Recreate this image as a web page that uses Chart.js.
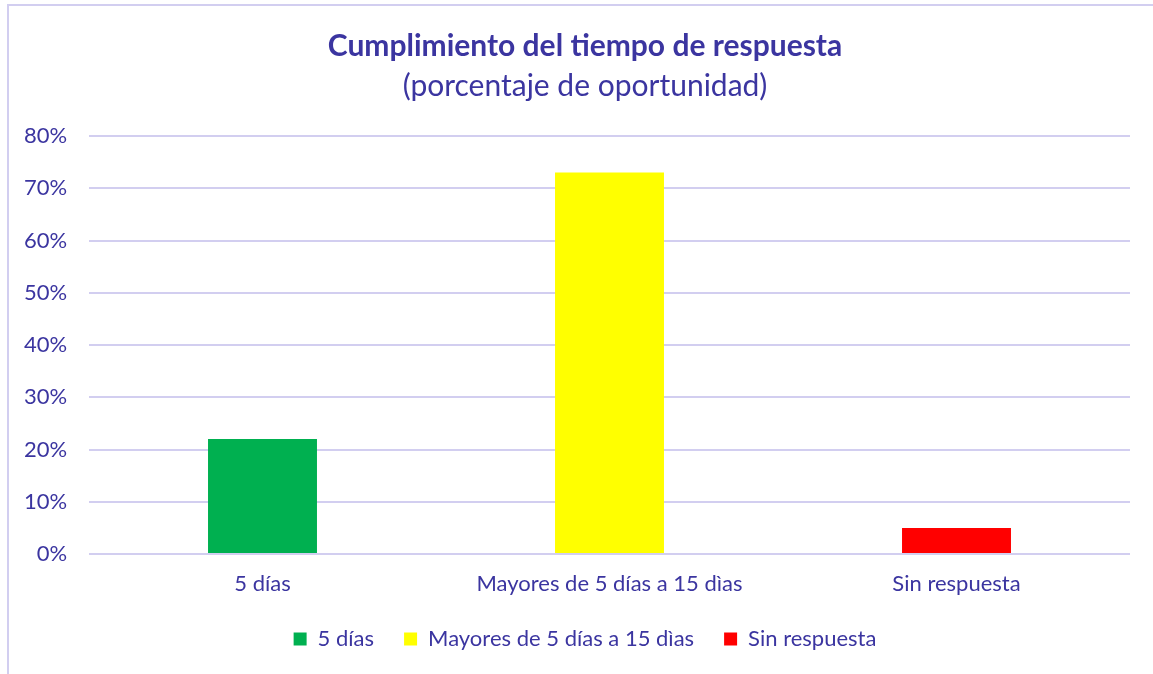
<!DOCTYPE html>
<html>
<head>
<meta charset="utf-8">
<script src="https://cdn.jsdelivr.net/npm/chart.js@4.4.0/dist/chart.umd.min.js"></script>
<style>
html,body{margin:0;padding:0;background:#fff;}
#wrap{position:relative;width:1153px;height:674px;overflow:hidden;}
#frame{position:absolute;left:7px;top:4px;width:1200px;height:700px;border-left:2px solid #d2cef0;border-top:2px solid #d2cef0;}
canvas{position:absolute;left:0;top:0;}
</style>
</head>
<body>
<div id="wrap">
<div id="frame"></div>
<canvas id="c" width="1153" height="674"></canvas>
</div>
<script>
const categories = ["5 días", "Mayores de 5 días a 15 dìas", "Sin respuesta"];
const values = [22, 73, 5];
const colors = ["#00B050", "#FFFF00", "#FF0000"];
const yTicks = [0, 10, 20, 30, 40, 50, 60, 70, 80];
const titleText = "Cumplimiento del tiempo de respuesta";
const subtitleText = "(porcentaje de oportunidad)";

const textColor = "#3B35A0";
const gridColor = "#D2CEF0";
const FONT = "Lato, 'Open Sans', sans-serif";

const datasets = categories.map((cat, i) => ({
  label: cat,
  data: categories.map((c, j) => (j === i ? values[i] : null)),
  backgroundColor: colors[i],
  borderWidth: 0,
  barPercentage: 0.314,
  categoryPercentage: 1,
  grouped: false,
  skipNull: true
}));

new Chart(document.getElementById("c"), {
  type: "bar",
  data: { labels: categories, datasets },
  options: {
    responsive: false,
    animation: false,
    devicePixelRatio: 1,
    layout: { padding: { left: 40, right: 23, top: 28, bottom: 14 } },
    plugins: {
      title: {
        display: true,
        text: titleText,
        color: textColor,
        font: { family: FONT, size: 30, weight: "bold" },
        padding: { top: 0, bottom: 4 }
      },
      subtitle: {
        display: true,
        text: subtitleText,
        color: textColor,
        font: { family: FONT, size: 30, weight: "normal" },
        padding: { top: 0, bottom: 32 }
      },
      legend: {
        position: "bottom",
        labels: {
          color: textColor,
          font: { family: FONT, size: 22 },
          boxWidth: 13,
          boxHeight: 13,
          padding: 30
        }
      },
      tooltip: { enabled: false }
    },
    scales: {
      x: {
        grid: { display: false },
        border: { display: false },
        afterFit: (axis) => { axis.height = 44; },
        ticks: { color: textColor, font: { family: FONT, size: 22 }, padding: 9 }
      },
      y: {
        min: 0,
        max: 80,
        afterBuildTicks: (axis) => { axis.ticks = yTicks.map(v => ({ value: v })); },
        afterFit: (axis) => { axis.width = 49; },
        grid: { color: gridColor, lineWidth: 2, drawTicks: false },
        border: { display: false },
        ticks: {
          color: textColor,
          font: { family: FONT, size: 22 },
          mirror: true,
          crossAlign: "far",
          padding: -65,
          callback: (v) => v + "%"
        }
      }
    }
  }
});
</script>
</body>
</html>
